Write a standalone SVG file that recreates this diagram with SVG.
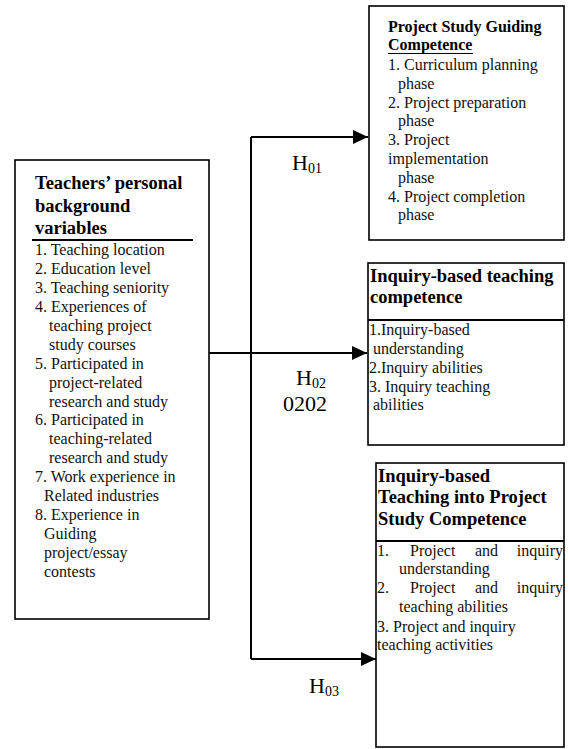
<svg xmlns="http://www.w3.org/2000/svg" width="568" height="749" viewBox="0 0 568 749">
<style>
.box{fill:#fff;stroke:#000;stroke-width:1.6}
.sep{stroke:#000;stroke-width:1.8}
.t{font-family:"Liberation Serif","Times New Roman",serif;font-size:16px;fill:#111}
.b{font-family:"Liberation Serif","Times New Roman",serif;font-weight:bold;fill:#000}
.h{font-family:"Liberation Serif","Times New Roman",serif;font-size:22px;fill:#000}
.sub{font-size:14px}
.c{fill:none;stroke:#000;stroke-width:2}
</style>
<defs>
<marker id="ah" markerUnits="userSpaceOnUse" markerWidth="16" markerHeight="14" refX="15" refY="7" orient="auto">
<path d="M0,0 L15,7 L0,14 z" fill="#000"/>
</marker>
</defs>
<g id="connectors">
<path class="c" d="M251,137 V659"/>
<path class="c" d="M251,137 H368" marker-end="url(#ah)"/>
<path class="c" d="M209,353 H367" marker-end="url(#ah)"/>
<path class="c" d="M251,659 H376" marker-end="url(#ah)"/>
<text class="h" x="292" y="170">H<tspan class="sub" dy="3">01</tspan></text>
<text class="h" x="296" y="385">H<tspan class="sub" dy="3">02</tspan></text>
<text class="h" x="283" y="411">0202</text>
<text class="h" x="309" y="693">H<tspan class="sub" dy="3">03</tspan></text>
</g>
<g id="teachers">
<rect class="box" x="15" y="160" width="194" height="459" stroke-width="2.4"/>
<text class="b" font-size="18.5px"><tspan x="35" y="189">Teachers’ personal</tspan><tspan x="35" y="212">background</tspan><tspan x="35" y="234">variables</tspan></text>
<line class="sep" x1="32" y1="240" x2="193" y2="240"/>
<text class="t">
<tspan x="35" y="255">1. Teaching location</tspan>
<tspan x="35" y="274">2. Education level</tspan>
<tspan x="35" y="293">3. Teaching seniority</tspan>
<tspan x="35" y="312">4. Experiences of</tspan>
<tspan x="49" y="331">teaching project</tspan>
<tspan x="49" y="350">study courses</tspan>
<tspan x="35" y="369">5. Participated in</tspan>
<tspan x="49" y="388">project-related</tspan>
<tspan x="49" y="407">research and study</tspan>
<tspan x="35" y="425">6. Participated in</tspan>
<tspan x="49" y="444">teaching-related</tspan>
<tspan x="49" y="463">research and study</tspan>
<tspan x="35" y="482">7. Work experience in</tspan>
<tspan x="44" y="501">Related industries</tspan>
<tspan x="35" y="520">8. Experience in</tspan>
<tspan x="44" y="539">Guiding</tspan>
<tspan x="44" y="558">project/essay</tspan>
<tspan x="44" y="577">contests</tspan>
</text>
</g>
<g id="guiding">
<rect class="box" x="369" y="6" width="195" height="234"/>
<text class="b" font-size="16px"><tspan x="388" y="32">Project Study Guiding</tspan><tspan x="388" y="50">Competence</tspan></text>
<line x1="388" y1="53.5" x2="473" y2="53.5" stroke="#000" stroke-width="1.2"/>
<text class="t">
<tspan x="388" y="70">1. Curriculum planning</tspan>
<tspan x="398" y="89">phase</tspan>
<tspan x="388" y="108">2. Project preparation</tspan>
<tspan x="398" y="126">phase</tspan>
<tspan x="388" y="145">3. Project</tspan>
<tspan x="388" y="164">implementation</tspan>
<tspan x="398" y="183">phase</tspan>
<tspan x="388" y="202">4. Project completion</tspan>
<tspan x="398" y="220">phase</tspan>
</text>
</g>
<g id="inquiry">
<rect class="box" x="368" y="263" width="196" height="182"/>
<text class="b" font-size="18.5px"><tspan x="370" y="282">Inquiry-based teaching</tspan><tspan x="370" y="303">competence</tspan></text>
<line class="sep" x1="368" y1="320" x2="564" y2="320"/>
<text class="t">
<tspan x="369" y="335">1.Inquiry-based</tspan>
<tspan x="373" y="354">understanding</tspan>
<tspan x="369" y="373">2.Inquiry abilities</tspan>
<tspan x="369" y="392">3. Inquiry teaching</tspan>
<tspan x="373" y="410">abilities</tspan>
</text>
</g>
<g id="integration">
<rect class="box" x="376" y="463" width="188" height="284"/>
<text class="b" font-size="18.5px"><tspan x="378" y="482">Inquiry-based</tspan><tspan x="378" y="503">Teaching into Project</tspan><tspan x="378" y="525">Study Competence</tspan></text>
<line class="sep" x1="376" y1="541" x2="564" y2="541"/>
<text class="t">
<tspan x="377" y="556">1.</tspan><tspan x="410" y="556">Project</tspan><tspan x="475" y="556">and</tspan><tspan x="563" y="556" text-anchor="end">inquiry</tspan>
</text>
<text class="t" x="399" y="574">understanding</text>
<text class="t">
<tspan x="377" y="593">2.</tspan><tspan x="410" y="593">Project</tspan><tspan x="475" y="593">and</tspan><tspan x="563" y="593" text-anchor="end">inquiry</tspan>
</text>
<text class="t" x="399" y="612">teaching abilities</text>
<text class="t" x="377" y="632">3. Project and inquiry</text>
<text class="t" x="377" y="650">teaching activities</text>
</g>
</svg>
